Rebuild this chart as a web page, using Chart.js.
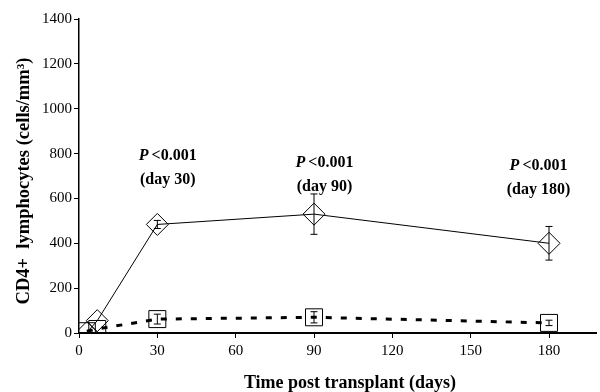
<!DOCTYPE html>
<html>
<head>
<meta charset="utf-8">
<script src="https://cdn.jsdelivr.net/npm/chart.js@4/dist/chart.umd.min.js"></script>
<style>
  html, body { margin: 0; padding: 0; background: #fff; }
  #wrap { width: 600px; height: 392px; }
</style>
</head>
<body>
<div id="wrap"><canvas id="myChart"></canvas></div>
<script>
// days post transplant
var daysA = [3, 7, 30, 90, 180];
var valuesA = [2, 55, 484, 530, 400];
var errA = [0, 0, 18, 90, 75];

var daysB = [3, 7, 30, 90, 180];
var valuesB = [8, 18, 62, 70, 45];
var errB = [0, 0, 22, 25, 12];

var xTicks = [0, 30, 60, 90, 120, 150, 180];
var yTicks = [0, 200, 400, 600, 800, 1000, 1200, 1400];

// p-value labels (day, value where the label sits)
var noteDays = [34, 94, 176];
var noteValues = [792, 760, 747];
var noteText = ['(day 30)', '(day 90)', '(day 180)'];

var xTitle = 'Time post transplant (days)';
var yTitle = 'CD4+  lymphocytes (cells/mm³)';

var X_MAX = 198;
var FONT = '"Liberation Serif", "Times New Roman", serif';

function toPoints(xs, ys) {
    return xs.map(function (x, i) { return { x: x, y: ys[i] }; });
}

var errorBars = {
    id: 'errorBars',
    afterDatasetsDraw: function (chart) {
        var ctx = chart.ctx;
        var xs = chart.scales.x, ys = chart.scales.y;
        var sets = [[daysA, valuesA, errA], [daysB, valuesB, errB]];
        ctx.save();
        ctx.strokeStyle = '#000';
        ctx.lineWidth = 1;
        sets.forEach(function (s) {
            for (var i = 0; i < s[0].length; i++) {
                if (!s[2][i]) continue;
                var px = xs.getPixelForValue(s[0][i]);
                var top = ys.getPixelForValue(s[1][i] + s[2][i]);
                var bot = ys.getPixelForValue(s[1][i] - s[2][i]);
                ctx.beginPath();
                ctx.moveTo(px, top); ctx.lineTo(px, bot);
                ctx.moveTo(px - 3.5, top); ctx.lineTo(px + 3.5, top);
                ctx.moveTo(px - 3.5, bot); ctx.lineTo(px + 3.5, bot);
                ctx.stroke();
            }
        });
        ctx.restore();
    }
};

// p-values and axis titles
var notes = {
    id: 'notes',
    afterDraw: function (chart) {
        var ctx = chart.ctx;
        var xs = chart.scales.x, ys = chart.scales.y;
        ctx.save();
        ctx.fillStyle = '#000';
        ctx.textBaseline = 'middle';
        for (var i = 0; i < noteDays.length; i++) {
            var cx = xs.getPixelForValue(noteDays[i]);
            var cy = ys.getPixelForValue(noteValues[i]);
            ctx.font = 'italic bold 16px ' + FONT;
            var wP = ctx.measureText('P').width;
            ctx.font = 'bold 16px ' + FONT;
            var rest = '<0.001';
            var wR = ctx.measureText(rest).width;
            var start = cx - (wP + 3 + wR) / 2;
            ctx.font = 'italic bold 16px ' + FONT;
            ctx.textAlign = 'left';
            ctx.fillText('P', start, cy);
            ctx.font = 'bold 16px ' + FONT;
            ctx.fillText(rest, start + wP + 3, cy);
            ctx.textAlign = 'center';
            ctx.fillText(noteText[i], cx, cy + 24);
        }

        ctx.textAlign = 'center';
        ctx.font = 'bold 18px ' + FONT;
        ctx.fillText(xTitle, 350, 383);

        ctx.translate(24, 181);
        ctx.rotate(-Math.PI / 2);
        ctx.font = 'bold 18.5px ' + FONT;
        ctx.fillText(yTitle, 0, 0);
        ctx.restore();
    }
};

var ctx = document.getElementById('myChart').getContext('2d');
var myChart = new Chart(ctx, {
    type: 'scatter',
    data: {
        datasets: [{
            data: toPoints(daysA, valuesA),
            showLine: true,
            borderColor: '#000',
            borderWidth: 1,
            pointStyle: 'rectRot',
            pointRadius: 11,
            pointBorderWidth: 1,
            pointBackgroundColor: 'rgba(0,0,0,0)',
            pointBorderColor: '#000'
        }, {
            data: toPoints(daysB, valuesB),
            showLine: true,
            borderColor: '#000',
            borderWidth: 3,
            borderDash: [6, 9],
            pointStyle: 'rect',
            pointRadius: 12,
            pointBorderWidth: 1,
            pointBackgroundColor: 'rgba(0,0,0,0)',
            pointBorderColor: '#000'
        }]
    },
    options: {
        responsive: true,
        maintainAspectRatio: false,
        animation: false,
        layout: { autoPadding: false, padding: { top: 19, right: 2, left: 40, bottom: 28 } },
        plugins: { legend: { display: false }, tooltip: { enabled: false } },
        scales: {
            x: {
                type: 'linear',
                min: 0,
                max: X_MAX,
                afterBuildTicks: function (axis) {
                    var t = xTicks.map(function (v) { return { value: v }; });
                    t.push({ value: X_MAX });
                    axis.ticks = t;
                },
                grid: {
                    drawOnChartArea: false,
                    tickLength: 5,
                    tickColor: function (c) { return c.tick && c.tick.value > 180 ? 'rgba(0,0,0,0)' : '#000'; }
                },
                border: { color: '#000', width: 2 },
                ticks: {
                    color: '#000',
                    font: { family: FONT, size: 15 },
                    padding: 4,
                    maxRotation: 0,
                    callback: function (v) { return v > 180 ? '' : String(v); }
                }
            },
            y: {
                min: 0,
                max: 1400,
                afterBuildTicks: function (axis) {
                    axis.ticks = yTicks.map(function (v) { return { value: v }; });
                },
                grid: { drawOnChartArea: false, tickLength: 5, color: '#000' },
                border: { color: '#000', width: 1.5 },
                ticks: {
                    color: '#000',
                    font: { family: FONT, size: 15 },
                    padding: 2,
                    callback: function (v) { return String(v); }
                }
            }
        }
    },
    plugins: [errorBars, notes]
});
</script>
</body>
</html>
